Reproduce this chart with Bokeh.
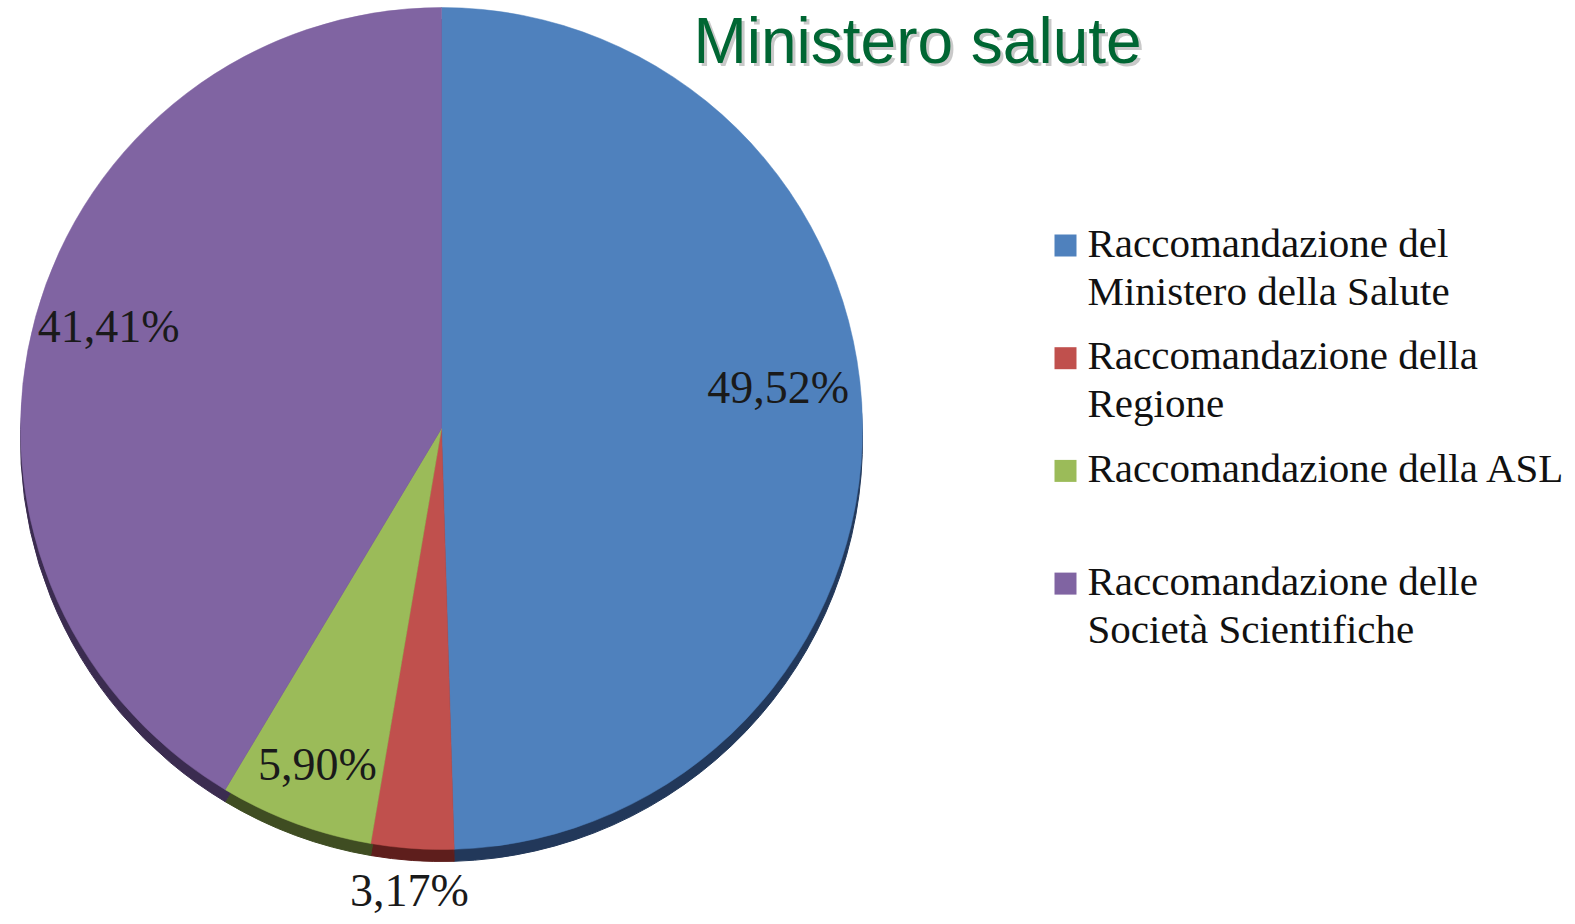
import math
from bokeh.plotting import figure
from bokeh.models import Range1d, ColumnDataSource
from bokeh.embed import file_html
from bokeh.resources import INLINE
from bokeh.core.properties import value

# ---------------- data ----------------
title_text = "Ministero salute"
categories = [
    "Raccomandazione del\nMinistero della Salute",
    "Raccomandazione della\nRegione",
    "Raccomandazione della ASL",
    "Raccomandazione delle\nSocietà Scientifiche",
]
shares = [49.52, 3.17, 5.90, 41.41]

# ---------------- style ----------------
colors = ["#4F81BD", "#C0504D", "#9BBB59", "#8064A2"]
side_colors = ["#22385A", "#5E1E1C", "#3F4D22", "#3B2C50"]
label_r = [0.80, 1.10, 0.85, 0.82]
label_dy = [36, 0, 0, 10]

W, H = 1570, 920
def X(ix):
    return ix
def Y(iy):
    return H - iy

cx, cy, R = X(441), Y(428), 421
side_depth = 12

p = figure(width=W, height=H, x_range=Range1d(0, W), y_range=Range1d(0, H),
           output_backend="svg", toolbar_location=None, min_border=0,
           x_axis_type=None, y_axis_type=None)
p.grid.visible = False
p.outline_line_color = None
p.background_fill_color = "white"
p.border_fill_color = "white"

total = sum(shares)
starts, ends, mids = [], [], []
cum = 0.0
for v in shares:
    a_end = math.pi / 2 - 2 * math.pi * cum / total
    cum += v
    a_start = math.pi / 2 - 2 * math.pi * cum / total
    starts.append(a_start)
    ends.append(a_end)
    mids.append((a_start + a_end) / 2)

src = ColumnDataSource(dict(start=starts, end=ends, color=colors, side=side_colors))

# 3D side
p.wedge(x=cx, y=cy - side_depth, radius=R, start_angle="start", end_angle="end",
        fill_color="side", line_color="side", source=src)
# top face
p.wedge(x=cx, y=cy, radius=R, start_angle="start", end_angle="end",
        fill_color="color", line_color="color", line_width=0.5, source=src)

# percentage labels
lx, ly, lt = [], [], []
for i, v in enumerate(shares):
    r = label_r[i] * R
    lx.append(cx + r * math.cos(mids[i]))
    ly.append(cy + r * math.sin(mids[i]) + label_dy[i])
    lt.append(f"{v:.2f}".replace(".", ",") + "%")
p.text(x=lx, y=ly, text=lt, text_align="center", text_baseline="middle",
       text_font=value("Liberation Serif"), text_font_size="46px", text_color="#1a1a1a")

# title with shadow
p.text(x=[X(917) + 3], y=[Y(40) - 3], text=[title_text], text_align="center",
       text_baseline="middle", text_font=value("Liberation Sans"),
       text_font_size="64px", text_color="#888888", text_alpha=0.45)
p.text(x=[X(917)], y=[Y(40)], text=[title_text], text_align="center",
       text_baseline="middle", text_font=value("Liberation Sans"),
       text_font_size="64px", text_color="#006633")

# legend
sq_x, sq_y, tx, ty, tt = [], [], [], [], []
for i, cat in enumerate(categories):
    y0 = 245 + i * 112.7
    sq_x.append(X(1065))
    sq_y.append(Y(y0))
    for k, line in enumerate(cat.split("\n")):
        tx.append(X(1087))
        ty.append(Y(y0 - 3 + 48 * k))
        tt.append(line)
p.rect(x=sq_x, y=sq_y, width=22, height=22, fill_color=colors, line_color=None)
p.text(x=tx, y=ty, text=tt, text_align="left", text_baseline="middle",
       text_font=value("Liberation Serif"), text_font_size="41px", text_color="#111111")

open("out.html", "w").write(file_html(p, INLINE))
